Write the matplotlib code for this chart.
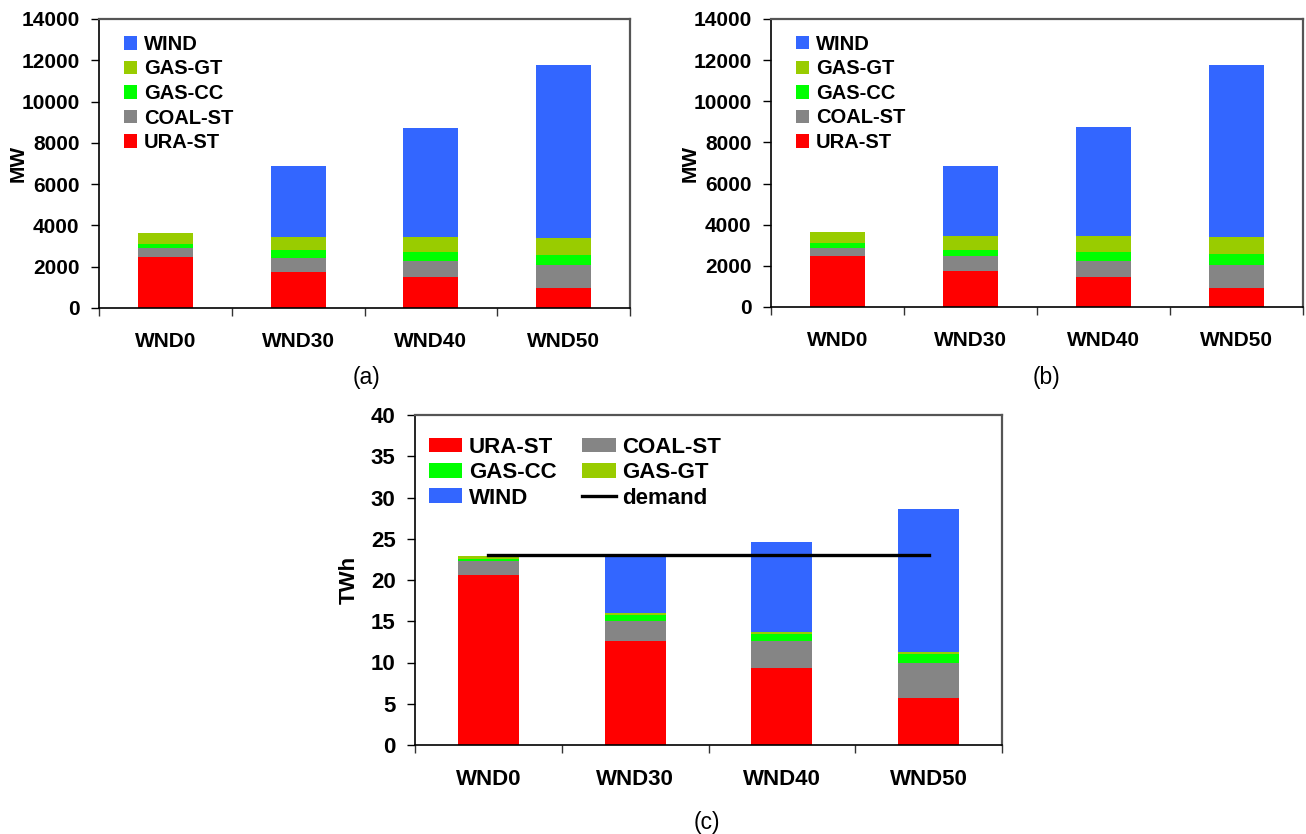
import matplotlib
matplotlib.use("Agg")
import matplotlib.pyplot as plt
import numpy as np
from matplotlib.patches import Patch
from matplotlib.lines import Line2D

plt.rcParams['font.family'] = ['Liberation Sans', 'DejaVu Sans']

# Scenarios and generation technologies
scenarios = ["WND0", "WND30", "WND40", "WND50"]
techs = ["URA-ST", "COAL-ST", "GAS-CC", "GAS-GT", "WIND"]
colors = {"URA-ST": "#FF0000", "COAL-ST": "#858585", "GAS-CC": "#00FF00",
          "GAS-GT": "#99CC00", "WIND": "#3366FF"}

# (a) installed capacity, MW
cap_a_ura = [2470, 1760, 1500, 985]
cap_a_coal = [450, 675, 775, 1095]
cap_a_gascc = [195, 390, 450, 485]
cap_a_gasgt = [515, 630, 725, 840]
cap_a_wind = [0, 3425, 5265, 8370]

# (b) installed capacity, MW
cap_b_ura = [2500, 1770, 1480, 945]
cap_b_coal = [375, 685, 780, 1120]
cap_b_gascc = [245, 325, 425, 520]
cap_b_gasgt = [535, 680, 745, 800]
cap_b_wind = [0, 3400, 5320, 8360]

# (c) annual energy, TWh
en_ura = [20.6, 12.55, 9.35, 5.7]
en_coal = [1.7, 2.45, 3.2, 4.3]
en_gascc = [0.25, 0.7, 0.9, 1.05]
en_gasgt = [0.35, 0.25, 0.25, 0.25]
en_wind = [0.0, 6.95, 10.95, 17.35]
demand = 23.0

W, H = 1306, 834
fig = plt.figure(figsize=(W / 100, H / 100), dpi=100)


def px_axes(left, top, right, bottom):
    return fig.add_axes([left / W, 1 - bottom / H, (right - left) / W, (bottom - top) / H])


def style_axes(ax, ymax, ystep, fsize, xpad):
    ax.set_xlim(-0.5, len(scenarios) - 0.5)
    ax.set_ylim(0, ymax)
    ax.set_yticks(np.arange(0, ymax + ystep / 2, ystep))
    ax.set_xticks(range(len(scenarios)))
    ax.set_xticklabels(scenarios, fontsize=fsize, fontweight='bold')
    ax.set_xticks(np.arange(-0.5, len(scenarios)), minor=True)
    ax.tick_params(axis='x', which='major', length=0, pad=xpad)
    ax.tick_params(axis='x', which='minor', length=6, width=1, direction='out', color='#333333')
    ax.tick_params(axis='y', length=6, width=1, direction='out', pad=8, labelsize=fsize)
    for lab in ax.get_yticklabels():
        lab.set_fontweight('bold')
    for s in ('left', 'bottom'):
        ax.spines[s].set_color('black')
        ax.spines[s].set_linewidth(1.2)
    for s in ('top', 'right'):
        ax.spines[s].set_color('#555555')
        ax.spines[s].set_linewidth(1.6)


def stacked(ax, series):
    bottom = np.zeros(len(scenarios))
    x = np.arange(len(scenarios))
    for name, vals in series:
        vals = np.asarray(vals, dtype=float)
        ax.bar(x, vals, width=0.415, bottom=bottom, color=colors[name], edgecolor='none', zorder=2)
        bottom += vals


def capacity_panel(ax, ura, coal, gascc, gasgt, wind):
    stacked(ax, [("URA-ST", ura), ("COAL-ST", coal), ("GAS-CC", gascc),
                 ("GAS-GT", gasgt), ("WIND", wind)])
    style_axes(ax, 14000, 2000, 15, 17)
    ax.set_ylabel("MW", fontsize=15, fontweight='bold')
    ax.yaxis.set_label_coords(-0.134, 0.5)
    order = ["WIND", "GAS-GT", "GAS-CC", "COAL-ST", "URA-ST"]
    handles = [Patch(facecolor=colors[t], edgecolor='none') for t in order]
    leg = ax.legend(handles, order, loc='upper left', bbox_to_anchor=(0.047, 0.945),
                    frameon=False, prop={'size': 14.5, 'weight': 'bold'},
                    handlelength=0.65, handleheight=0.65, handletextpad=0.35,
                    labelspacing=0.275, borderpad=0, borderaxespad=0)
    return leg


ax_a = px_axes(99, 19, 630, 308)
capacity_panel(ax_a, cap_a_ura, cap_a_coal, cap_a_gascc, cap_a_gasgt, cap_a_wind)

ax_b = px_axes(771, 19, 1303, 307)
capacity_panel(ax_b, cap_b_ura, cap_b_coal, cap_b_gascc, cap_b_gasgt, cap_b_wind)

ax_c = px_axes(415, 415, 1002, 745)
stacked(ax_c, [("URA-ST", en_ura), ("COAL-ST", en_coal), ("GAS-CC", en_gascc),
               ("GAS-GT", en_gasgt), ("WIND", en_wind)])
ax_c.plot([0, len(scenarios) - 1], [demand, demand], color='black', lw=2.4, zorder=3)
style_axes(ax_c, 40, 5, 16, 17.5)
ax_c.set_ylabel("TWh", fontsize=16, fontweight='bold')
ax_c.yaxis.set_label_coords(-0.094, 0.5)

c_labels = ["URA-ST", "GAS-CC", "WIND", "COAL-ST", "GAS-GT", "demand"]
c_patches = [Patch(facecolor=colors[t], edgecolor='none') for t in c_labels[:5]]
c_handles = c_patches + [Line2D([], [], color='black', lw=2.4)]
ax_c.legend(c_handles, c_labels, loc='upper left', bbox_to_anchor=(0.024, 0.934), ncol=2,
            frameon=False, prop={'size': 16, 'weight': 'bold'},
            handlelength=1.5, handleheight=0.65, handletextpad=0.3,
            labelspacing=0.2, columnspacing=1.15, borderpad=0, borderaxespad=0)

fig.text(367 / W, 1 - 377 / H, "(a)", ha='center', va='center', fontsize=16.5)
fig.text(1047 / W, 1 - 377 / H, "(b)", ha='center', va='center', fontsize=16.5)
fig.text(707 / W, 1 - 822 / H, "(c)", ha='center', va='center', fontsize=16.5)

fig.savefig("out.png", dpi=100, facecolor='white')
